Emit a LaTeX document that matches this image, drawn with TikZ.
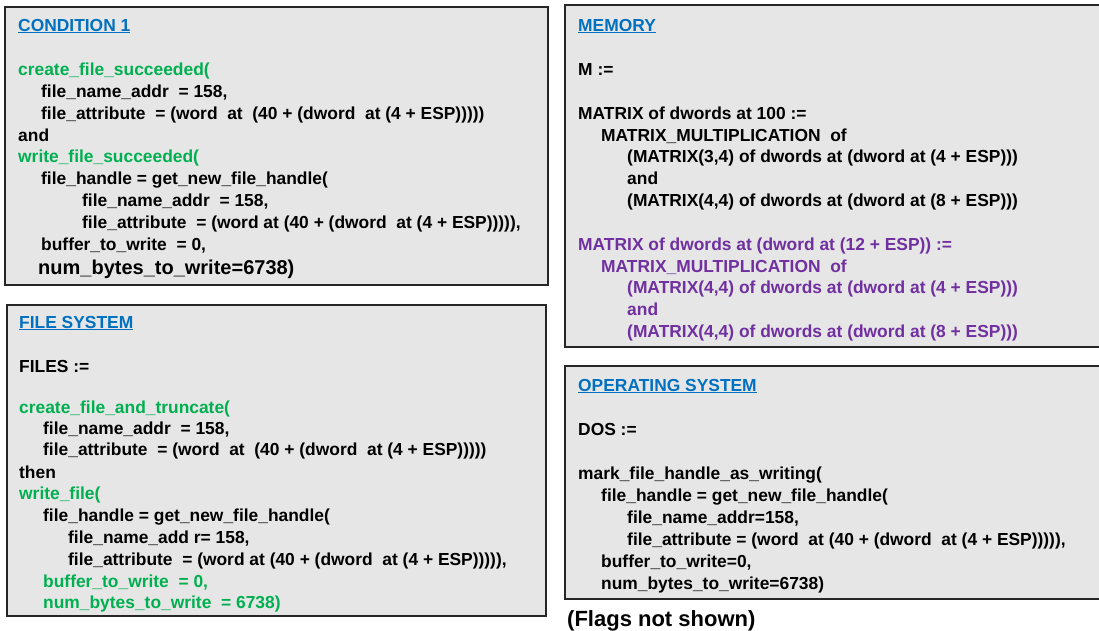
\documentclass[tikz,border=0pt]{standalone}
\usepackage{fontspec}
\setmainfont{Liberation Sans}
\definecolor{hdrblue}{HTML}{0070C0}
\definecolor{grn}{HTML}{00B050}
\definecolor{purp}{HTML}{7030A0}
\definecolor{panelfill}{HTML}{E6E6E6}
\tikzset{
  panel/.style={draw=black!85, line width=1.5pt, fill=panelfill},
  txt/.style={anchor=base west, inner sep=0pt, font=\bfseries\fontsize{17.4}{20}\selectfont, text=black},
  hdr/.style={txt, text=hdrblue},
  gtxt/.style={txt, text=grn},
  ptxt/.style={txt, text=purp},
  bigtxt/.style={txt, font=\bfseries\fontsize{20}{24}\selectfont},
  flagtxt/.style={txt, font=\bfseries\fontsize{22}{26}\selectfont},
}
\begin{document}
\begin{tikzpicture}[x=1pt,y=-1pt]
\clip (0,0) rectangle (1099,630);
\fill[white] (0,0) rectangle (1099,630);

% ---------- panels ----------
\draw[panel] (5,7) rectangle (548,285);
\draw[panel] (7,305) rectangle (546,616);
\draw[panel] (565,5) rectangle (1106,347);
\draw[panel] (565,366) rectangle (1106,599);

% ---------- CONDITION 1 ----------
\node[hdr]  (c1h) at (18,31)  {\underline{CONDITION 1}};
\node[gtxt] (c1a) at (18,75)  {create\_file\_succeeded(};
\node[txt]  (c1b) at (41,97)  {file\_name\_addr \ = 158,};
\node[txt]  (c1c) at (41,119) {file\_attribute \ = (word \ at \ (40 + (dword \ at (4 + ESP)))))};
\node[txt]  (c1d) at (18,141) {and};
\node[gtxt] (c1e) at (18,162) {write\_file\_succeeded(};
\node[txt]  (c1f) at (41,184) {file\_handle = get\_new\_file\_handle(};
\node[txt]  (c1g) at (82,206) {file\_name\_addr \ = 158,};
\node[txt]  (c1i) at (82,228) {file\_attribute \ = (word at (40 + (dword \ at (4 + ESP))))),};
\node[txt]  (c1j) at (41,250) {buffer\_to\_write \ = 0,};
\node[bigtxt] (c1k) at (38,274) {num\_bytes\_to\_write=6738)};

% ---------- FILE SYSTEM ----------
\node[hdr]  (fsh) at (19,328) {\underline{FILE SYSTEM}};
\node[txt]  (fsa) at (19,372) {FILES :=};
\node[gtxt] (fsb) at (19,413) {create\_file\_and\_truncate(};
\node[txt]  (fsc) at (43,434) {file\_name\_addr \ = 158,};
\node[txt]  (fsd) at (43,455) {file\_attribute \ = (word \ at \ (40 + (dword \ at (4 + ESP)))))};
\node[txt]  (fse) at (19,478) {then};
\node[gtxt] (fsf) at (19,499) {write\_file(};
\node[txt]  (fsg) at (43,521) {file\_handle = get\_new\_file\_handle(};
\node[txt]  (fsi) at (68,543) {file\_name\_add r= 158,};
\node[txt]  (fsj) at (68,565) {file\_attribute \ = (word at (40 + (dword \ at (4 + ESP))))),};
\node[gtxt] (fsk) at (43,587) {buffer\_to\_write \ = 0,};
\node[gtxt] (fsl) at (43,608) {num\_bytes\_to\_write \ = 6738)};

% ---------- MEMORY ----------
\node[hdr]  (mmh) at (578,31)  {\underline{MEMORY}};
\node[txt]  (mma) at (578,75)  {M :=};
\node[txt]  (mmb) at (578,119) {MATRIX of dwords at 100 :=};
\node[txt]  (mmc) at (601,141) {MATRIX\_MULTIPLICATION \ of};
\node[txt]  (mmd) at (627,162) {(MATRIX(3,4) of dwords at (dword at (4 + ESP)))};
\node[txt]  (mme) at (627,184) {and};
\node[txt]  (mmf) at (627,206) {(MATRIX(4,4) of dwords at (dword at (8 + ESP)))};
\node[ptxt] (mmg) at (578,250) {MATRIX of dwords at (dword at (12 + ESP)) :=};
\node[ptxt] (mmi) at (601,272) {MATRIX\_MULTIPLICATION \ of};
\node[ptxt] (mmj) at (627,293) {(MATRIX(4,4) of dwords at (dword at (4 + ESP)))};
\node[ptxt] (mmk) at (627,315) {and};
\node[ptxt] (mml) at (627,337) {(MATRIX(4,4) of dwords at (dword at (8 + ESP)))};

% ---------- OPERATING SYSTEM ----------
\node[hdr]  (osh) at (578,391) {\underline{OPERATING SYSTEM}};
\node[txt]  (osa) at (578,435) {DOS :=};
\node[txt]  (osb) at (578,479) {mark\_file\_handle\_as\_writing(};
\node[txt]  (osc) at (601,501) {file\_handle = get\_new\_file\_handle(};
\node[txt]  (osd) at (627,523) {file\_name\_addr=158,};
\node[txt]  (ose) at (627,545) {file\_attribute = (word \ at (40 + (dword \ at (4 + ESP))))),};
\node[txt]  (osf) at (601,567) {buffer\_to\_write=0,};
\node[txt]  (osg) at (601,589) {num\_bytes\_to\_write=6738)};

\node[flagtxt] (flg) at (567,626) {(Flags not shown)};
\end{tikzpicture}
\end{document}
